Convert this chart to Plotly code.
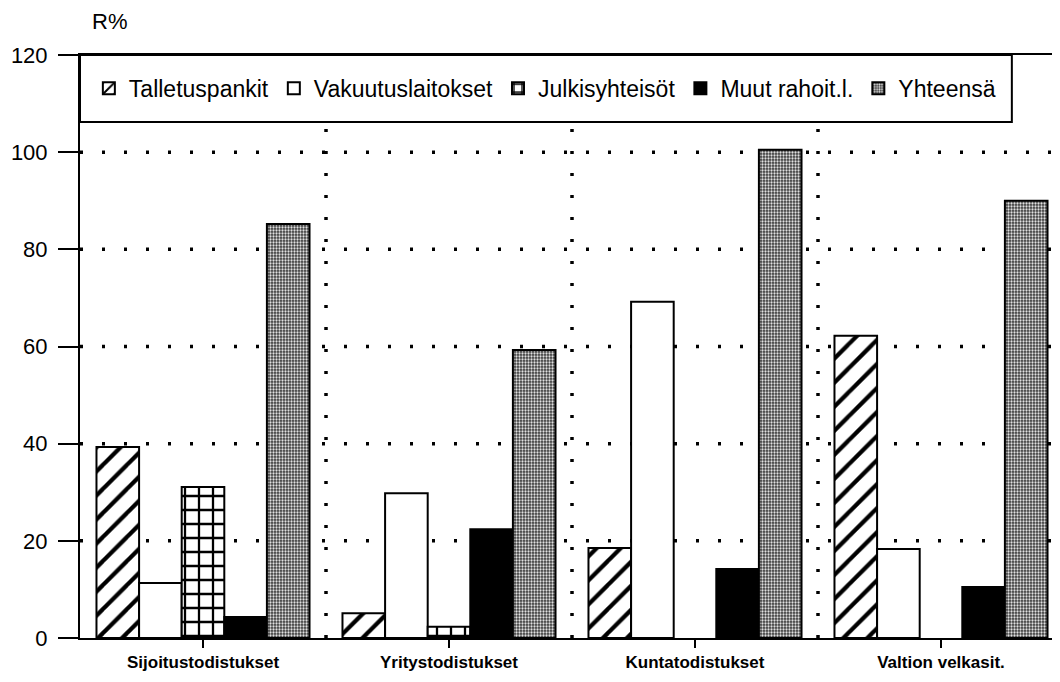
import plotly.graph_objects as go

categories = ["Sijoitustodistukset", "Yritystodistukset", "Kuntatodistukset", "Valtion velkasit."]
series_names = ["Talletuspankit", "Vakuutuslaitokset", "Julkisyhteisöt", "Muut rahoit.l.", "Yhteensä"]
talletuspankit = [39.3, 5.1, 18.5, 62.2]
vakuutuslaitokset = [11.3, 29.8, 69.2, 18.3]
julkisyhteisot = [31.1, 2.3, None, None]
muut_rahoit = [4.3, 22.4, 14.2, 10.5]
yhteensa = [85.2, 59.3, 100.5, 90.0]
y_ticks = [0, 20, 40, 60, 80, 100, 120]
grid_vals = [20, 40, 60, 80, 100]

FONT = "Liberation Sans, Arial, Helvetica, sans-serif"
LINE = dict(color="black", width=2)

styles = [
    dict(color="white", pattern=dict(shape="/", fgcolor="black", bgcolor="white", size=17,
                                     solidity=0.25, fgopacity=1)),
    dict(color="white"),
    dict(color="white", pattern=dict(shape="+", fgcolor="black", bgcolor="white", size=14,
                                     solidity=0.3, fgopacity=1)),
    dict(color="black"),
    dict(color="#404040", pattern=dict(shape=".", fgcolor="#e0e0e0", bgcolor="#3a3a3a", size=3,
                                       solidity=0.45, fgopacity=1)),
]
values = [talletuspankit, vakuutuslaitokset, julkisyhteisot, muut_rahoit, yhteensa]

fig = go.Figure()
for name, vals, st in zip(series_names, values, styles):
    marker = dict(line=LINE, **st)
    fig.add_trace(go.Bar(x=list(range(len(categories))), y=vals, name=name, marker=marker))

shapes = []
for g in grid_vals:
    shapes.append(dict(type="line", xref="paper", yref="y", x0=0, x1=1, y0=g, y1=g,
                       line=dict(color="black", width=3.5, dash="3px,19px"), layer="below"))
for b in [0.5, 1.5, 2.5]:
    shapes.append(dict(type="line", xref="x", yref="y", x0=b, x1=b, y0=0, y1=106,
                       line=dict(color="black", width=3.5, dash="3px,19px"), layer="below"))
# legend box
shapes.append(dict(type="rect", xref="paper", yref="y", x0=0, x1=0.947, y0=106.2, y1=120,
                   line=dict(color="black", width=2), fillcolor="white", layer="above"))

fig.update_layout(
    width=1060, height=682,
    margin=dict(l=72, r=4, t=47, b=52),
    paper_bgcolor="white", plot_bgcolor="white",
    font=dict(family=FONT, color="black", size=22),
    barmode="group", bargap=0.134, bargroupgap=0,
    showlegend=True,
    legend=dict(orientation="h", x=0.009, xanchor="left", y=0.943, yanchor="middle",
                bgcolor="rgba(0,0,0,0)", borderwidth=0, font=dict(size=23), itemwidth=30,
                tracegroupgap=0),
    shapes=shapes,
    annotations=[dict(text="R%", xref="paper", yref="paper", x=0.01, y=1.057,
                      xanchor="left", yanchor="middle", showarrow=False, font=dict(size=22))],
)
fig.update_xaxes(range=[-0.5, 3.5], tickvals=list(range(len(categories))),
                 ticktext=categories, showline=True, linecolor="black", linewidth=2, mirror=True,
                 ticks="outside", ticklen=8, tickwidth=2, tickcolor="black",
                 tickfont=dict(size=17, weight="bold"), showgrid=False, zeroline=False)
fig.update_yaxes(range=[0, 120], tickvals=y_ticks, showline=True, linecolor="black", linewidth=2,
                 ticks="outside", ticklen=20, tickwidth=2, tickcolor="black", ticklabelstandoff=6,
                 showgrid=False, zeroline=False, tickfont=dict(size=22))

fig.write_html("out.html")
